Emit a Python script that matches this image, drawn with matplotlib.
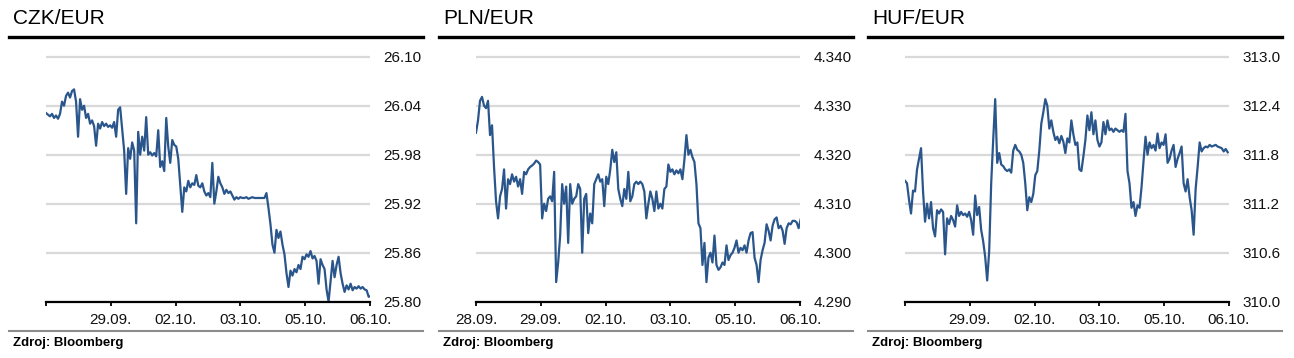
import numpy as np
import matplotlib
matplotlib.use("Agg")
import matplotlib.pyplot as plt
from matplotlib.lines import Line2D

plt.rcParams['font.family'] = ['Liberation Sans', 'DejaVu Sans']

# x-axis labels (trading days)
day_labels = ["28.09.", "29.09.", "02.10.", "03.10.", "05.10.", "06.10."]

# intraday quotes, equally spaced samples from 28.09. to 06.10.
czk = [26.031, 26.029, 26.027, 26.030, 26.025, 26.028, 26.024, 26.030, 26.045, 26.040,
       26.052, 26.056, 26.050, 26.058, 26.060, 26.045, 26.002, 26.048, 26.035, 26.040,
       26.025, 26.030, 26.018, 26.022, 26.015, 25.991, 26.018, 26.012, 26.020, 26.015,
       26.018, 26.014, 26.016, 26.013, 26.020, 26.002, 26.035, 26.038, 26.012, 25.985,
       25.932, 25.988, 25.975, 25.995, 25.985, 25.896, 26.008, 25.980, 26.002, 25.985,
       26.026, 25.980, 25.983, 25.979, 25.982, 25.978, 26.010, 25.965, 25.972, 25.960,
       26.025, 25.990, 25.970, 25.998, 25.992, 25.990, 25.975, 25.942, 25.910, 25.940,
       25.935, 25.948, 25.940, 25.945, 25.943, 25.955, 25.942, 25.940, 25.945, 25.935,
       25.930, 25.933, 25.928, 25.970, 25.920, 25.935, 25.953, 25.945, 25.940, 25.932,
       25.937, 25.933, 25.935, 25.930, 25.925, 25.928, 25.926, 25.928, 25.927, 25.927,
       25.928, 25.926, 25.927, 25.928, 25.927, 25.927, 25.927, 25.927, 25.927, 25.927,
       25.933, 25.915, 25.895, 25.870, 25.860, 25.888, 25.878, 25.886, 25.870, 25.858,
       25.835, 25.818, 25.838, 25.832, 25.840, 25.836, 25.845, 25.840, 25.855, 25.852,
       25.858, 25.855, 25.862, 25.853, 25.856, 25.850, 25.822, 25.852, 25.845, 25.840,
       25.815, 25.800, 25.825, 25.850, 25.830, 25.845, 25.855, 25.835, 25.822, 25.812,
       25.820, 25.815, 25.822, 25.814, 25.818, 25.816, 25.819, 25.816, 25.818, 25.815,
       25.814, 25.806, 25.807]

pln = [4.3245, 4.3270, 4.3310, 4.3318, 4.3300, 4.3295, 4.3310, 4.3240, 4.3260, 4.3175,
       4.3105, 4.3070, 4.3115, 4.3130, 4.3170, 4.3090, 4.3150, 4.3140, 4.3160, 4.3145,
       4.3155, 4.3135, 4.3150, 4.3120, 4.3165, 4.3160, 4.3170, 4.3175, 4.3178, 4.3182,
       4.3188, 4.3185, 4.3180, 4.3070, 4.3100, 4.3085, 4.3110, 4.3115, 4.3105, 4.3165,
       4.2940, 4.2980, 4.3035, 4.3140, 4.3100, 4.3135, 4.3020, 4.3140, 4.3100, 4.3110,
       4.3115, 4.3140, 4.3130, 4.3000, 4.3110, 4.3120, 4.3040, 4.3080, 4.3060, 4.3140,
       4.3150, 4.3160, 4.3145, 4.3150, 4.3095, 4.3155, 4.3140, 4.3170, 4.3210, 4.3185,
       4.3205, 4.3130, 4.3110, 4.3095, 4.3130, 4.3110, 4.3165, 4.3105, 4.3115, 4.3140,
       4.3145, 4.3140, 4.3145, 4.3140, 4.3125, 4.3070, 4.3100, 4.3125, 4.3110, 4.3085,
       4.3125, 4.3090, 4.3100, 4.3090, 4.3130, 4.3135, 4.3180, 4.3165, 4.3170, 4.3160,
       4.3168, 4.3162, 4.3170, 4.3150, 4.3190, 4.3240, 4.3200, 4.3210, 4.3195, 4.3185,
       4.3140, 4.3060, 4.3050, 4.2975, 4.3020, 4.2940, 4.2990, 4.3000, 4.2980, 4.3035,
       4.2975, 4.2965, 4.2970, 4.2980, 4.2975, 4.3015, 4.2985, 4.2995, 4.3000, 4.3010,
       4.3025, 4.3000, 4.3010, 4.3005, 4.3015, 4.3000, 4.3025, 4.3040, 4.3042, 4.2990,
       4.2975, 4.2940, 4.2985, 4.3005, 4.3020, 4.3058, 4.3045, 4.3025, 4.3055, 4.3068,
       4.3072, 4.3050, 4.3055, 4.3045, 4.3018, 4.3050, 4.3060, 4.3058, 4.3065, 4.3065,
       4.3062, 4.3050, 4.3068]

huf = [311.48, 311.45, 311.25, 311.08, 311.36, 311.35, 311.62, 311.75, 311.88, 311.35,
       310.98, 311.20, 311.02, 311.22, 310.90, 310.80, 311.12, 311.08, 311.13, 311.10,
       310.58, 311.02, 310.95, 311.05, 311.00, 310.92, 311.18, 311.05, 311.10, 311.06,
       311.08, 311.04, 311.10, 311.00, 310.82, 311.30, 311.06, 311.16, 310.88, 310.74,
       310.55, 310.26, 310.62, 311.45, 311.98, 312.48, 311.70, 311.82, 311.68, 311.66,
       311.62, 311.60, 311.62, 311.58, 311.85, 311.92, 311.86, 311.84, 311.80, 311.70,
       311.45, 311.12, 311.28, 311.22, 311.32, 311.55, 311.60, 311.85, 312.18, 312.32,
       312.48, 312.40, 312.12, 312.22, 312.08, 311.98, 312.02, 311.94, 312.03, 311.96,
       311.82, 312.00, 311.95, 312.22, 312.05, 311.92, 311.95, 311.62, 311.60, 311.78,
       311.98, 312.28, 312.10, 312.32, 312.05, 312.22, 311.98, 311.90, 311.95, 312.20,
       312.05, 312.22, 312.10, 312.12, 312.08, 312.12, 312.10, 312.08, 312.10, 312.08,
       312.30, 311.60, 311.45, 311.15, 311.22, 311.05, 311.18, 311.15, 311.40, 311.72,
       312.02, 311.80, 311.95, 311.88, 311.92, 311.85, 312.06, 311.88, 311.95, 311.92,
       312.05, 311.70, 311.75, 311.85, 311.92, 311.65, 311.75, 311.82, 311.90, 311.45,
       311.35, 311.50, 311.28, 311.12, 310.82, 311.38, 311.65, 311.95, 311.84, 311.88,
       311.90, 311.89, 311.92, 311.90, 311.91, 311.92, 311.90, 311.89, 311.88, 311.84,
       311.87, 311.83]

panels = [
    dict(title="CZK/EUR", data=czk, t_end=5.01, yticks=[25.80, 25.86, 25.92, 25.98, 26.04, 26.10],
         fmt="{:.2f}", first_label=False, ox=0),
    dict(title="PLN/EUR", data=pln, t_end=5.01, yticks=[4.290, 4.300, 4.310, 4.320, 4.330, 4.340],
         fmt="{:.3f}", first_label=True, ox=430),
    dict(title="HUF/EUR", data=huf, t_end=4.98, yticks=[310.0, 310.6, 311.2, 311.8, 312.4, 313.0],
         fmt="{:.1f}", first_label=False, ox=859),
]

W, H = 1294, 358
fig = plt.figure(figsize=(W / 100, H / 100), dpi=100)
blue = "#2a568c"

def fx(px):
    return px / W

def fy(py):
    return 1 - py / H

for p in panels:
    ox = p["ox"]
    lo, hi = p["yticks"][0], p["yticks"][-1]
    extra = 0.03
    top_px = 56.7 - 245 * extra
    ax = fig.add_axes([fx(ox + 46), fy(301.7), fx(324), (301.7 - top_px) / H])
    t = np.linspace(0, p["t_end"], len(p["data"]))
    ax.plot(t, p["data"], color=blue, lw=1.6, zorder=3)
    ax.set_xlim(0, 5)
    ax.set_ylim(lo, hi + extra * (hi - lo))
    ax.set_yticks(p["yticks"])
    ax.set_yticklabels([p["fmt"].format(v) for v in p["yticks"]])
    ax.yaxis.tick_right()
    ax.set_xticks(range(6))
    labels = list(day_labels)
    if not p["first_label"]:
        labels[0] = ""
    ax.set_xticklabels(labels)
    ax.grid(axis="y", color="#d9d9d9", lw=1.6, zorder=0)
    for s in ["top", "left", "right"]:
        ax.spines[s].set_visible(False)
    ax.spines["bottom"].set_linewidth(1.6)
    ax.spines["bottom"].set_zorder(4)
    ax.tick_params(axis="y", length=0, pad=9.5, labelsize=11, colors="#111111")
    ax.tick_params(axis="x", length=3, width=1.3, direction="out", pad=5,
                   labelsize=11, colors="black", labelcolor="#111111")
    ax.set_facecolor("none")

    fig.add_artist(Line2D([fx(ox + 9), fx(ox + 423)], [fy(37), fy(37)],
                          color="black", lw=2.4))
    fig.add_artist(Line2D([fx(ox + 9), fx(ox + 423)], [fy(331), fy(331)],
                          color="#8c8c8c", lw=1.5))
    fig.text(fx(ox + 13), fy(19), p["title"], fontsize=15, va="center", ha="left")
    fig.text(fx(ox + 13), fy(343), "Zdroj: Bloomberg", fontsize=9.5, fontweight="bold",
             va="center", ha="left")

fig.savefig("out.png", dpi=100)
